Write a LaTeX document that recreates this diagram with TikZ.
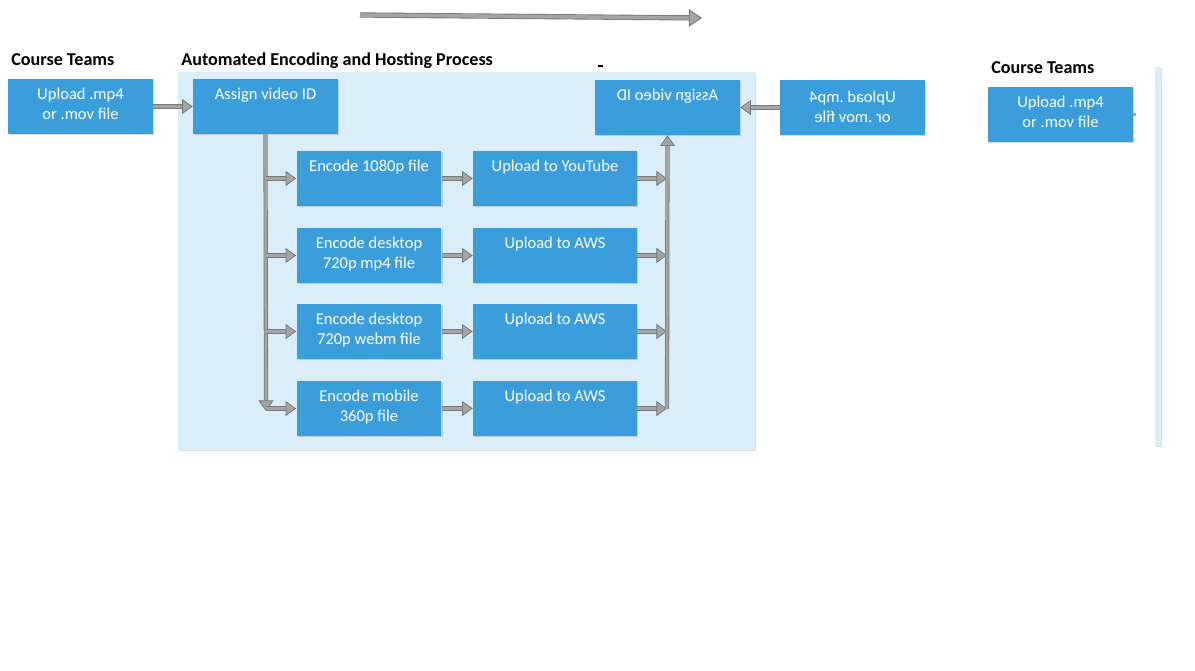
\documentclass[tikz,border=0pt]{standalone}
\usepackage{fontspec}
\setmainfont{Carlito}
\usepackage{graphicx}
\usetikzlibrary{arrows.meta, positioning, shadows}
\definecolor{stepblue}{RGB}{58, 157, 220}
\definecolor{lanebg}{RGB}{218, 238, 250}
\definecolor{flowgray}{RGB}{165, 165, 165}
\definecolor{flowedge}{RGB}{120, 120, 120}

\begin{document}
\begin{tikzpicture}[x=0.02cm, y=-0.02cm,
  box/.style={fill=stepblue, minimum width=2.9cm, minimum height=1.1cm, inner sep=0pt,
    drop shadow={shadow xshift=0.6pt, shadow yshift=-0.8pt, opacity=0.3}},
  boxtext/.style={text=white, font=\fontsize{9.4}{10.9}\selectfont, align=center, anchor=north, yshift=-0.19cm, inner sep=0pt},
  heading/.style={font=\fontsize{10.3}{12}\selectfont\bfseries, inner sep=0pt, anchor=base west},
  flow/.style={draw=flowedge, double=flowgray, double distance=1.5pt, line width=0.45pt,
    -{Triangle[length=6pt, width=8.5pt, fill=flowgray]}},
  bigflow/.style={draw=flowedge, double=flowgray, double distance=2pt, line width=0.5pt,
    -{Triangle[length=7.5pt, width=10pt, fill=flowgray]}}
]
  \useasboundingbox (0,0) rectangle (1195,671);

  % Timeline
  \coordinate (timestart) at (360,15);
  \coordinate (timeend) at (702,18);
  \draw[bigflow] (timestart) -- (timeend);

  % Swim lanes
  \node[fill=lanebg, minimum width=11.54cm, minimum height=7.56cm, inner sep=0pt,
    drop shadow={shadow xshift=0.8pt, shadow yshift=-0.8pt, opacity=0.25}] (lane) at (466.5,261) {};
  \node[fill=lanebg, minimum width=0.12cm, minimum height=7.58cm, inner sep=0pt,
    drop shadow={shadow xshift=0.8pt, shadow yshift=-0.8pt, opacity=0.25}] (lanetwo) at (1158,256.5) {};

  % Headings
  \node[heading] (teamsleft) at (11,65.5) {Course Teams};
  \node[heading] (process) at (181,65.5) {Automated Encoding and Hosting Process};
  \node[heading] (teamsright) at (991,74) {Course Teams};
  \draw[line width=0.6pt] (598,66) -- (603,66);

  % Upload and ID
  \node[box, label={[boxtext]north:Upload .mp4\\or .mov  file}] (upload) at (80.5,106.5) {};
  \node[box, label={[boxtext]north:Assign video ID}] (assign) at (265.5,106.5) {};

  % Encoding
  \node[box, label={[boxtext]north:Encode 1080p file}] (enchd) at (369,178.5) {};
  \node[box, label={[boxtext]north:Encode desktop\\720p mp4 file}] (encmp) at (369,255.5) {};
  \node[box, label={[boxtext]north:Encode desktop\\720p webm file}] (encwebm) at (369,331.5) {};
  \node[box, label={[boxtext]north:Encode mobile\\360p file}] (encmobile) at (369,408.5) {};

  % Hosting
  \node[box, minimum width=3.28cm, label={[boxtext]north:Upload to YouTube}] (youtube) at (555,178.5) {};
  \node[box, minimum width=3.28cm, label={[boxtext]north:Upload to AWS}] (awsmp) at (555,255.5) {};
  \node[box, minimum width=3.28cm, label={[boxtext]north:Upload to AWS}] (awswebm) at (555,331.5) {};
  \node[box, minimum width=3.28cm, label={[boxtext]north:Upload to AWS}] (awsmobile) at (555,408.5) {};

  % Mirrored copies
  \node[box, label={[boxtext]north:\reflectbox{Assign video ID}}] (assignmirror) at (667.5,107.5) {};
  \node[box, label={[boxtext]north:\reflectbox{\begin{tabular}{@{}c@{}}Upload .mp4\\or .mov  file\end{tabular}}}] (uploadmirror) at (852.5,107.5) {};
  \node[box, label={[boxtext]north:Upload .mp4\\or .mov  file}] (uploadright) at (1060.5,114.5) {};

  % Connectors
  \coordinate (trunkend) at (266,411);
  \coordinate (collect) at (667,409);
  \draw[flow] (upload) -- (assign);
  \draw[flow] (assign.south) -- (trunkend);
  \draw[flow] (enchd.west -| trunkend) -- (enchd.west);
  \draw[flow] (encmp.west -| trunkend) -- (encmp.west);
  \draw[flow] (encwebm.west -| trunkend) -- (encwebm.west);
  \draw[flow] (encmobile.west -| trunkend) -- (encmobile.west);
  \draw[flow] (enchd) -- (youtube);
  \draw[flow] (encmp) -- (awsmp);
  \draw[flow] (encwebm) -- (awswebm);
  \draw[flow] (encmobile) -- (awsmobile);
  \draw[flow] (youtube.east) -- (youtube.east -| collect);
  \draw[flow] (awsmp.east) -- (awsmp.east -| collect);
  \draw[flow] (awswebm.east) -- (awswebm.east -| collect);
  \draw[flow] (awsmobile.east) -- (awsmobile.east -| collect);
  \draw[flow] (collect) -- (assignmirror.south);
  \draw[flow] (uploadmirror) -- (assignmirror);
  \draw[flowgray, line width=1.5pt] (uploadright.east) -- ++(3,0);
\end{tikzpicture}
\end{document}
